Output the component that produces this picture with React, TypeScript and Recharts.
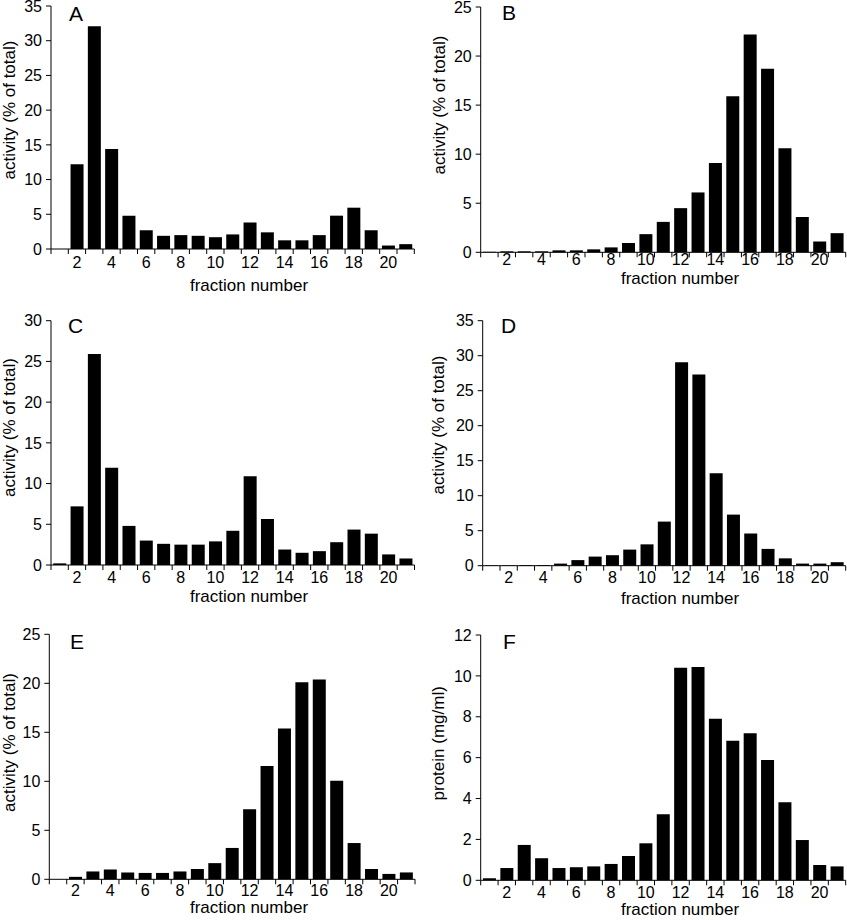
import { BarChart, Bar, XAxis, YAxis } from 'recharts';

const FONT = '"Liberation Sans", Arial, Helvetica, sans-serif';

// fraction numbers on the x axis and the labelled ones
const fractions = [1, 2, 3, 4, 5, 6, 7, 8, 9, 10, 11, 12, 13, 14, 15, 16, 17, 18, 19, 20, 21];
const xTickLabels = [2, 4, 6, 8, 10, 12, 14, 16, 18, 20];

// activity (% of total) per fraction, panels A-E
const activityA = [0, 12.2, 32.1, 14.4, 4.8, 2.7, 1.9, 2.0, 1.9, 1.7, 2.1, 3.8, 2.4, 1.25, 1.25, 2.0, 4.8, 5.95, 2.7, 0.5, 0.7];
const activityB = [0.05, 0.1, 0.1, 0.1, 0.2, 0.2, 0.3, 0.5, 0.95, 1.85, 3.1, 4.5, 6.1, 9.1, 15.9, 22.2, 18.7, 10.6, 3.6, 1.1, 1.95];
const activityC = [0.2, 7.2, 25.9, 11.95, 4.8, 3.0, 2.6, 2.5, 2.5, 2.9, 4.2, 10.9, 5.65, 1.9, 1.5, 1.7, 2.8, 4.35, 3.85, 1.3, 0.8];
const activityD = [0.05, 0.05, 0.1, 0.1, 0.3, 0.8, 1.3, 1.5, 2.3, 3.05, 6.3, 29.05, 27.3, 13.2, 7.3, 4.6, 2.4, 1.05, 0.3, 0.3, 0.5];
const activityE = [0, 0.25, 0.8, 1.0, 0.7, 0.65, 0.65, 0.8, 1.05, 1.65, 3.2, 7.15, 11.55, 15.4, 20.1, 20.4, 10.05, 3.7, 1.05, 0.55, 0.7];
// protein (mg/ml) per fraction, panel F
const proteinF = [0.1, 0.6, 1.73, 1.08, 0.6, 0.64, 0.68, 0.8, 1.19, 1.81, 3.23, 10.4, 10.44, 7.9, 6.83, 7.19, 5.89, 3.82, 1.97, 0.75, 0.68];

const yTicksA = [0, 5, 10, 15, 20, 25, 30, 35];
const yTicksB = [0, 5, 10, 15, 20, 25];
const yTicksC = [0, 5, 10, 15, 20, 25, 30];
const yTicksD = [0, 5, 10, 15, 20, 25, 30, 35];
const yTicksE = [0, 5, 10, 15, 20, 25];
const yTicksF = [0, 2, 4, 6, 8, 10, 12];

const ACTIVITY_TITLE = 'activity (% of total)';
const PROTEIN_TITLE = 'protein (mg/ml)';
const X_TITLE = 'fraction number';

// tick marks sit on the boundaries between fractions, labels on the even fractions
const boundaries = fractions.map((f) => f - 0.5).concat(fractions[fractions.length - 1] + 0.5);
const xTicks = [...boundaries, ...xTickLabels].sort((a, b) => a - b);

interface Panel {
  letter: string;
  values: number[];
  yTicks: number[];
  yTitle: string;
  // page coords: chart box and plot rect
  box: [number, number, number, number];
  plot: [number, number, number, number];
  labelDy: number;
  xTitle: [number, number];
  yTitlePos: [number, number];
  letterPos: [number, number];
}

const PANELS: Panel[] = [
  {
    letter: 'A', values: activityA, yTicks: yTicksA, yTitle: ACTIVITY_TITLE,
    box: [0, 0, 424, 300], plot: [51, 414.3, 6, 249], labelDy: 19,
    xTitle: [249, 290.7], yTitlePos: [14.5, 110], letterPos: [69, 21],
  },
  {
    letter: 'B', values: activityB, yTicks: yTicksB, yTitle: ACTIVITY_TITLE,
    box: [424, 0, 423, 300], plot: [480.7, 845.7, 7, 252.3], labelDy: 13,
    xTitle: [680, 284], yTitlePos: [445, 105], letterPos: [502, 20],
  },
  {
    letter: 'C', values: activityC, yTicks: yTicksC, yTitle: ACTIVITY_TITLE,
    box: [0, 300, 424, 310], plot: [51, 414.5, 320.7, 565], labelDy: 18,
    xTitle: [249, 602], yTitlePos: [14.5, 427.5], letterPos: [68, 333],
  },
  {
    letter: 'D', values: activityD, yTicks: yTicksD, yTitle: ACTIVITY_TITLE,
    box: [424, 300, 423, 310], plot: [482.7, 845.7, 320.7, 565.7], labelDy: 17,
    xTitle: [680, 604], yTitlePos: [444, 425], letterPos: [501, 333],
  },
  {
    letter: 'E', values: activityE, yTicks: yTicksE, yTitle: ACTIVITY_TITLE,
    box: [0, 610, 424, 310], plot: [49.3, 415, 634.3, 879.3], labelDy: 17,
    xTitle: [249, 912.5], yTitlePos: [14.5, 742.5], letterPos: [70, 649],
  },
  {
    letter: 'F', values: proteinF, yTicks: yTicksF, yTitle: PROTEIN_TITLE,
    box: [424, 610, 423, 310], plot: [480.7, 845.7, 635, 880.3], labelDy: 17.5,
    xTitle: [680, 915], yTitlePos: [444, 743.3], letterPos: [503, 649],
  },
];

const X_AXIS_HEIGHT = 30;

function renderXTick(labelDy: number) {
  return (props: any) => {
    const { x, y, payload } = props;
    const v = payload.value;
    if (!Number.isInteger(v)) {
      return <line x1={x} x2={x} y1={y} y2={y + 5} stroke="#000" strokeWidth={1} />;
    }
    return (
      <text x={x} y={y + labelDy} textAnchor="middle" fontSize={16} fill="#000">
        {v}
      </text>
    );
  };
}

function FractionPanel({ panel }: { panel: Panel }) {
  const [left, top, width, height] = panel.box;
  const [px0, px1, py0, py1] = panel.plot;
  const data = fractions.map((f, i) => ({ fraction: f, value: panel.values[i] }));
  const yMax = panel.yTicks[panel.yTicks.length - 1];

  const xTitleX = panel.xTitle[0] - left;
  const xTitleY = panel.xTitle[1] - top;
  const yTitleX = panel.yTitlePos[0] - left;
  const yTitleY = panel.yTitlePos[1] - top;

  return (
    <div style={{ position: 'absolute', left, top, width, height }}>
      <BarChart
        width={width}
        height={height}
        data={data}
        barCategoryGap="13%"
        margin={{
          top: py0 - top,
          right: left + width - px1,
          bottom: top + height - py1 - X_AXIS_HEIGHT,
          left: 0,
        }}
      >
        <XAxis
          dataKey="fraction"
          type="number"
          domain={[0.5, 21.5]}
          ticks={xTicks}
          interval={0}
          height={X_AXIS_HEIGHT}
          tickSize={0}
          tickMargin={0}
          tickLine={false}
          axisLine={{ stroke: '#000', strokeWidth: 1 }}
          tick={renderXTick(panel.labelDy)}
          label={() => (
            <text x={xTitleX} y={xTitleY} textAnchor="middle" fontSize={17} fill="#000">
              {X_TITLE}
            </text>
          )}
        />
        <YAxis
          type="number"
          domain={[0, yMax]}
          ticks={panel.yTicks}
          interval={0}
          width={px0 - left}
          tickSize={5}
          tickMargin={4}
          axisLine={{ stroke: '#000', strokeWidth: 1 }}
          tickLine={{ stroke: '#000', strokeWidth: 1 }}
          tick={{ fontSize: 16, fill: '#000' }}
          label={() => (
            <text
              x={yTitleX}
              y={yTitleY}
              transform={`rotate(-90, ${yTitleX}, ${yTitleY})`}
              textAnchor="middle"
              fontSize={17}
              fill="#000"
            >
              {panel.yTitle}
            </text>
          )}
        />
        <Bar dataKey="value" fill="#000" isAnimationActive={false} />
      </BarChart>
      <div
        style={{
          position: 'absolute',
          left: panel.letterPos[0] - left,
          top: panel.letterPos[1] - top - 17.8,
          fontSize: 21,
          lineHeight: '21px',
          color: '#000',
        }}
      >
        {panel.letter}
      </div>
    </div>
  );
}

export default function App() {
  return (
    <div
      style={{
        position: 'absolute',
        left: 0,
        top: 0,
        width: 847,
        height: 920,
        background: '#fff',
        fontFamily: FONT,
      }}
    >
      {PANELS.map((p) => (
        <FractionPanel key={p.letter} panel={p} />
      ))}
    </div>
  );
}
